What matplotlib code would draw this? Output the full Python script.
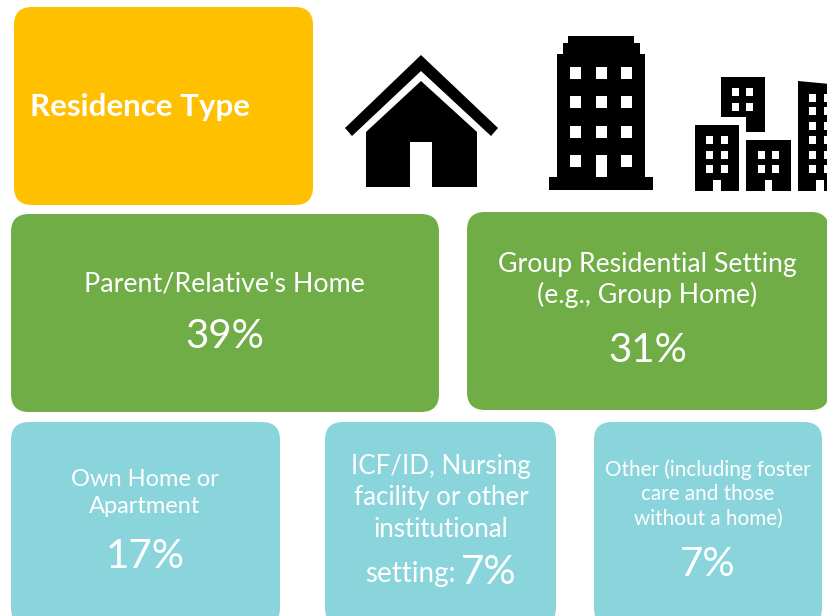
import matplotlib
matplotlib.use('Agg')
import matplotlib.pyplot as plt
from matplotlib.patches import FancyBboxPatch, Polygon, Rectangle

plt.rcParams['font.family'] = ['Lato', 'DejaVu Sans']

title = 'Residence Type'
labels = ["Parent/Relative's Home", 'Group Residential Setting\n(e.g., Group Home)',
          'Own Home or\nApartment', 'Other (including foster\ncare and those\nwithout a home)']
percents = ['39%', '31%', '17%', '7%']
icf_label = 'ICF/ID, Nursing\nfacility or other\ninstitutional'
icf_tail = 'setting:'
icf_percent = '7%'

orange = '#FFC000'
green = '#70AD47'
teal = '#8AD4DC'

fig = plt.figure(figsize=(8.28, 6.16), dpi=100)
ax = fig.add_axes([0, 0, 1, 1])
ax.set_xlim(0, 828)
ax.set_ylim(616, 0)
ax.axis('off')

def box(x0, y0, x1, y1, color, r=18):
    ax.add_patch(FancyBboxPatch((x0 + r, y0 + r), x1 - x0 - 2*r, y1 - y0 - 2*r,
                                boxstyle='round,pad=%d,rounding_size=%d' % (r, r),
                                fc=color, ec='none', clip_on=True))

def txt(x, y, s, size, **kw):
    ax.text(x, y, s, color='white', fontsize=size, ha=kw.pop('ha', 'center'), va='center', **kw)

def win(xs, ys, w, h, color='white'):
    for x in xs:
        for y in ys:
            ax.add_patch(Rectangle((x, y), w, h, fc=color, ec='none'))

# boxes
box(14, 7, 313, 205, orange)
box(11, 214, 439, 412, green)
box(467, 212, 829, 410, green)
box(11, 422, 280, 626, teal)
box(325, 422, 556, 626, teal)
box(594, 422, 822, 626, teal)

# text
txt(30, 107, title, 22.5, ha='left', fontweight='bold')
txt(224.5, 284, labels[0], 19.3)
txt(225, 337, percents[0], 29)
txt(647, 280, labels[1], 19.2, linespacing=1.24)
txt(648, 351, percents[1], 29)
txt(145, 493, labels[2], 17, linespacing=1.4)
txt(145, 557, percents[2], 29)
txt(441, 498, icf_label, 18.6, linespacing=1.34)
txt(410, 574, icf_tail, 20)
txt(489, 573, icf_percent, 29)
txt(708, 494, labels[3], 14.9, linespacing=1.27)
txt(708, 565, percents[3], 29)

# house
ax.add_patch(Polygon([(421, 55), (498, 128), (491, 136), (421, 71), (352, 136), (345, 128)], fc='black', ec='none'))
ax.add_patch(Polygon([(421, 81), (477, 132), (477, 187), (432, 187), (432, 142), (410, 142), (410, 187),
                      (366, 187), (366, 132)], fc='black', ec='none'))

# tower
ax.add_patch(Polygon([(568, 36), (634, 36), (634, 43), (640, 43), (640, 54), (645, 54), (645, 177), (653, 177),
                      (653, 190), (549, 190), (549, 177), (557, 177), (557, 54), (563, 54), (563, 43), (568, 43)],
                     fc='black', ec='none'))
win([570, 596, 621], [67, 96, 126], 11.5, 11.5)
win([570, 621], [155], 11.5, 11.5)
win([596], [155], 11.5, 22)

# small city
ax.add_patch(Rectangle((695, 125), 44, 66, fc='black', ec='none'))
win([706, 721], [136, 151, 165], 7.5, 7.5)
win([713], [180], 8, 11)
ax.add_patch(Rectangle((746, 140), 45, 51, fc='black', ec='none'))
win([758, 772], [151, 165], 7.5, 7.5)
win([765], [180], 7.5, 11)
ax.add_patch(Polygon([(721, 77), (765, 77), (765, 132), (746, 132), (746, 117), (721, 117)], fc='black', ec='none'))
win([732, 746], [88, 103], 7.5, 7.5)
ax.add_patch(Polygon([(798, 81), (830, 84), (830, 191), (798, 191)], fc='black', ec='none'))
win([809, 824], [94, 107, 122, 136, 151, 165], 7.5, 7.5)
win([816], [180], 8, 11)

fig.savefig('out.png', dpi=100)
